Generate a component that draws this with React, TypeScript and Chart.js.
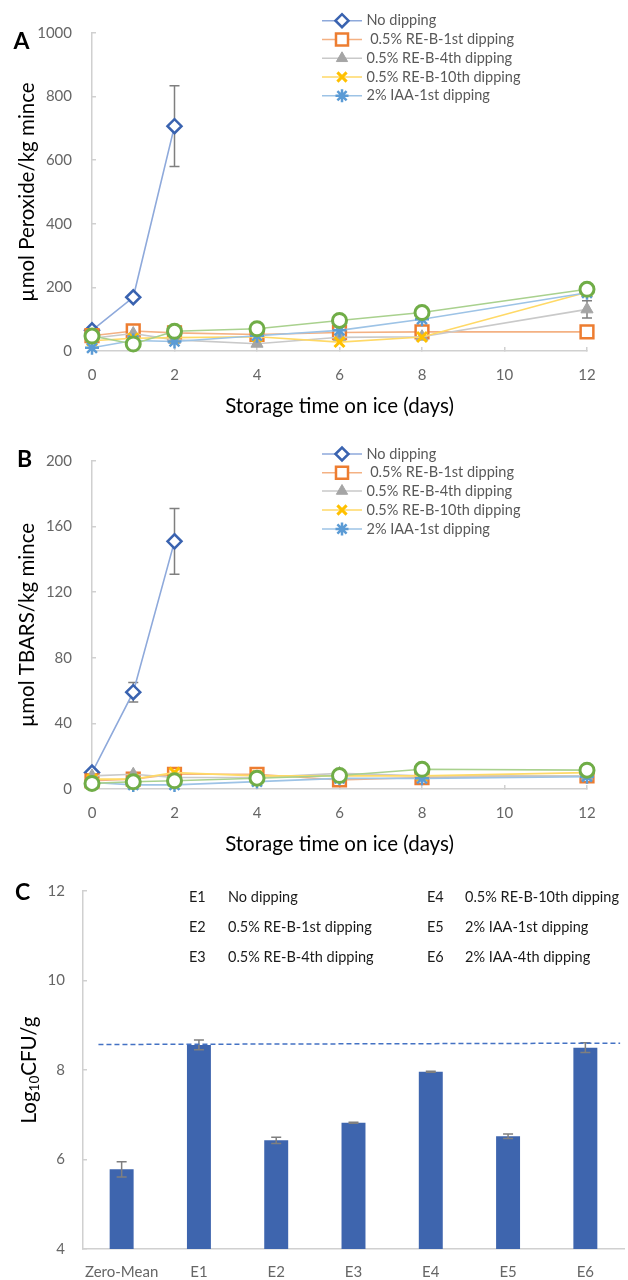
import React, { useEffect, useRef } from 'react';
import { Chart, registerables } from 'chart.js';
import { drawPoint } from 'chart.js/helpers';

Chart.register(...registerables);

const FONT = 'Lato, "Open Sans", sans-serif';
const TICK_COLOR = '#666666';
const AXIS_COLOR = '#D0D0D0';
const TITLE_SIZE = 20.5;

// ---------- data ----------
const days = [0, 1, 2, 4, 6, 8, 12];
const seriesNames = ['No dipping', ' 0.5% RE-B-1st dipping', '0.5% RE-B-4th dipping', '0.5% RE-B-10th dipping', '2% IAA-1st dipping', ''];

// Panel A: peroxide
const peroxNoDip = [65, 169, 707];
const peroxRE1 = [48, 63, 57, 52, 58, 60, 60];
const peroxRE4 = [40, 55, 35, 23, 43, 45, 131];
const peroxRE10 = [32, 40, 42, 45, 28, 44, 185];
const peroxIAA1 = [10, 33, 30, 48, 65, 100, 183];
const peroxIAA4 = [47, 22, 62, 70, 96, 121, 194];
const peroxNoDipErr = [0, 0, 127];
const peroxRE4Err = [0, 0, 0, 0, 0, 0, 27];
const peroxIAA4Err = [0, 0, 0, 0, 0, 0, 17];
const peroxYTicks = { min: 0, max: 1000, step: 200 };

// Panel B: TBARS
const tbarsNoDip = [10, 59, 151];
const tbarsRE1 = [5, 6, 9, 9, 5.5, 7, 8];
const tbarsRE4 = [8, 9, 7, 7, 9.5, 8, 8];
const tbarsRE10 = [6, 6, 10, 8, 8, 8, 10];
const tbarsIAA1 = [4, 2.5, 2.5, 4.5, 6.5, 6.5, 7.5];
const tbarsIAA4 = [3.4, 4.4, 5, 6.6, 8.2, 12, 11.5];
const tbarsNoDipErr = [0, 6, 20];
const tbarsYTicks = { min: 0, max: 200, step: 40 };

// Panel C: counts
const groups = ['Zero-Mean', 'E1', 'E2', 'E3', 'E4', 'E5', 'E6'];
const cfu = [5.78, 8.56, 6.43, 6.82, 7.96, 6.52, 8.5];
const cfuErr = [0.17, 0.11, 0.07, 0.01, 0.01, 0.05, 0.11];
const refLineX = [-0.3, 6.45];
const refLineY = [8.57, 8.6];
const cfuYTicks = { min: 4, max: 12, step: 2 };
const codesLeft = ['E1', 'E2', 'E3'];
const descLeft = ['No dipping', '0.5% RE-B-1st dipping', '0.5% RE-B-4th dipping'];
const codesRight = ['E4', 'E5', 'E6'];
const descRight = ['0.5% RE-B-10th dipping', '2% IAA-1st dipping', '2% IAA-4th dipping'];

// ---------- styles ----------
const styles = [
  { line: '#8EA9DB', marker: '#3A63B0', fill: '#FFFFFF', shape: 'rectRot', radius: 7, bw: 2.5 },
  { line: '#F4B183', marker: '#ED7D31', fill: '#FFFFFF', shape: 'rect', radius: 9, bw: 2.5 },
  { line: '#C9C9C9', marker: '#A5A5A5', fill: '#A5A5A5', shape: 'triangle', radius: 7, bw: 1 },
  { line: '#FFD966', marker: '#FFC000', fill: '#FFC000', shape: 'crossRot', radius: 7, bw: 3 },
  { line: '#9DC3E6', marker: '#5B9BD5', fill: '#5B9BD5', shape: 'star', radius: 7, bw: 2.5 },
  { line: '#A9D18E', marker: '#70AD47', fill: '#FFFFFF', shape: 'circle', radius: 7, bw: 3 },
];

function buildLineDatasets(values: number[][], errors: number[][]) {
  const n = values.length;
  return values.map((vals, i) => ({
    label: seriesNames[i],
    data: vals.map((v, j) => ({ x: days[j], y: v })),
    errors: errors[i],
    borderColor: styles[i].line,
    backgroundColor: styles[i].fill,
    pointBorderColor: styles[i].marker,
    pointBackgroundColor: styles[i].fill,
    pointStyle: styles[i].shape,
    pointRadius: styles[i].radius,
    pointBorderWidth: styles[i].bw,
    borderWidth: 1.6,
    tension: 0,
    clip: false,
    order: n - 1 - i,
  }));
}

function errorBarPlugin(phase: 'before' | 'after', cap: number) {
  const draw = (chart: any) => {
    const ctx = chart.ctx;
    ctx.save();
    ctx.strokeStyle = '#7F7F7F';
    ctx.lineWidth = 1.5;
    chart.data.datasets.forEach((ds: any, i: number) => {
      const errs = ds.errors;
      if (!errs) return;
      const meta = chart.getDatasetMeta(i);
      const ys = chart.scales[meta.yAxisID];
      meta.data.forEach((el: any, j: number) => {
        const e = errs[j];
        if (!e) return;
        const raw = ds.data[j];
        const v = typeof raw === 'number' ? raw : raw.y;
        const x = el.x;
        const y1 = ys.getPixelForValue(v + e);
        const y2 = ys.getPixelForValue(v - e);
        ctx.beginPath();
        ctx.moveTo(x, y1);
        ctx.lineTo(x, y2);
        ctx.moveTo(x - cap, y1);
        ctx.lineTo(x + cap, y1);
        ctx.moveTo(x - cap, y2);
        ctx.lineTo(x + cap, y2);
        ctx.stroke();
      });
    });
    ctx.restore();
  };
  return phase === 'before'
    ? { id: 'errbars', beforeDatasetsDraw: draw }
    : { id: 'errbars', afterDatasetsDraw: draw };
}

function lineLegendPlugin(rowsY: number[]) {
  return {
    id: 'lineLegend',
    afterDraw(chart: any) {
      const ctx = chart.ctx;
      ctx.save();
      for (let i = 0; i < 5; i++) {
        const st = styles[i];
        const y = rowsY[i];
        ctx.strokeStyle = st.line;
        ctx.lineWidth = 1.6;
        ctx.beginPath();
        ctx.moveTo(322, y);
        ctx.lineTo(362, y);
        ctx.stroke();
        ctx.strokeStyle = st.marker;
        ctx.fillStyle = st.fill;
        ctx.lineWidth = st.bw;
        drawPoint(ctx, { pointStyle: st.shape, radius: st.radius - 0.5, rotation: 0, borderWidth: st.bw } as any, 342, y);
        ctx.fillStyle = '#595959';
        ctx.font = `14.5px ${FONT}`;
        ctx.textAlign = 'left';
        ctx.textBaseline = 'middle';
        ctx.fillText(seriesNames[i], 366.5, y);
      }
      ctx.restore();
    },
  };
}

function letterPlugin(letter: string, x: number, y: number) {
  return {
    id: 'panelLetter',
    afterDraw(chart: any) {
      const ctx = chart.ctx;
      ctx.save();
      ctx.fillStyle = '#000';
      ctx.font = `bold 23px ${FONT}`;
      ctx.textAlign = 'center';
      ctx.textBaseline = 'middle';
      ctx.fillText(letter, x, y);
      ctx.restore();
    },
  };
}

const refLinePlugin = {
  id: 'refLine',
  afterDatasetsDraw(chart: any) {
    const ctx = chart.ctx;
    const xs = chart.scales.x;
    const ys = chart.scales.y;
    ctx.save();
    ctx.strokeStyle = '#4472C4';
    ctx.lineWidth = 1.5;
    ctx.setLineDash([5, 3]);
    ctx.beginPath();
    refLineX.forEach((xv, i) => {
      const px = xs.getPixelForValue(xv);
      const py = ys.getPixelForValue(refLineY[i]);
      if (i === 0) ctx.moveTo(px, py);
      else ctx.lineTo(px, py);
    });
    ctx.stroke();
    ctx.restore();
  },
};

const groupLegendPlugin = {
  id: 'groupLegend',
  afterDraw(chart: any) {
    const ctx = chart.ctx;
    const rows = [37.7, 67, 97.7];
    ctx.save();
    ctx.fillStyle = '#1A1A1A';
    ctx.font = `14.5px ${FONT}`;
    ctx.textAlign = 'left';
    ctx.textBaseline = 'middle';
    rows.forEach((y, i) => {
      ctx.fillText(codesLeft[i], 189, y);
      ctx.fillText(descLeft[i], 228, y);
      ctx.fillText(codesRight[i], 427, y);
      ctx.fillText(descRight[i], 465, y);
    });
    ctx.restore();
  },
};

const cfuTitlePlugin = {
  id: 'cfuTitle',
  afterDraw(chart: any) {
    const ctx = chart.ctx;
    const area = chart.chartArea;
    const cy = (area.top + area.bottom) / 2;
    ctx.save();
    ctx.translate(29, cy);
    ctx.rotate(-Math.PI / 2);
    ctx.fillStyle = '#000';
    ctx.textBaseline = 'middle';
    ctx.textAlign = 'left';
    const big = `${TITLE_SIZE}px ${FONT}`;
    const small = `13.5px ${FONT}`;
    ctx.font = big;
    const w1 = ctx.measureText('Log').width;
    const w3 = ctx.measureText('CFU/g').width;
    ctx.font = small;
    const w2 = ctx.measureText('10').width;
    let x = -(w1 + w2 + w3) / 2;
    ctx.font = big;
    ctx.fillText('Log', x, 0);
    x += w1;
    ctx.font = small;
    ctx.fillText('10', x, 6);
    x += w2;
    ctx.font = big;
    ctx.fillText('CFU/g', x, 0);
    ctx.restore();
  },
};

function axisBase() {
  return {
    grid: { drawOnChartArea: false, drawTicks: true, tickLength: -4, color: AXIS_COLOR, lineWidth: 1.5 },
    border: { display: true, color: AXIS_COLOR, width: 1.5 },
  };
}

const plainTick = (v: any) => String(v);

function lineOptions(yT: { min: number; max: number; step: number }, yTitle: string, padTop: number, padBottom: number) {
  return {
    animation: false,
    responsive: false,
    layout: { padding: { left: 0, top: padTop, right: 41, bottom: padBottom } },
    plugins: { legend: { display: false }, tooltip: { enabled: false } },
    scales: {
      x: {
        type: 'linear',
        min: 0,
        max: 12,
        ...axisBase(),
        ticks: { stepSize: 2, font: { family: FONT, size: 15 }, color: TICK_COLOR, padding: 19, callback: plainTick },
        title: { display: true, text: 'Storage time on ice (days)', font: { family: FONT, size: TITLE_SIZE }, color: '#000', padding: 0 },
        afterFit: (s: any) => { s.height = 68; },
      },
      y: {
        type: 'linear',
        min: yT.min,
        max: yT.max,
        ...axisBase(),
        ticks: { stepSize: yT.step, font: { family: FONT, size: 15 }, color: TICK_COLOR, padding: 24, callback: plainTick },
        title: { display: true, text: yTitle, font: { family: FONT, size: TITLE_SIZE }, color: '#000', padding: { top: 14.7, bottom: 0 } },
        afterFit: (s: any) => { s.width = 92; },
      },
    },
  };
}

function useChart(ref: React.RefObject<HTMLCanvasElement | null>, make: () => any) {
  useEffect(() => {
    if (!ref.current) return;
    const chart = new Chart(ref.current, make());
    return () => chart.destroy();
  }, []);
}

export default function App() {
  const refA = useRef<HTMLCanvasElement>(null);
  const refB = useRef<HTMLCanvasElement>(null);
  const refC = useRef<HTMLCanvasElement>(null);

  useChart(refA, () => ({
    type: 'line',
    data: {
      datasets: buildLineDatasets(
        [peroxNoDip, peroxRE1, peroxRE4, peroxRE10, peroxIAA1, peroxIAA4],
        [peroxNoDipErr, [], peroxRE4Err, [], [], peroxIAA4Err]
      ),
    },
    options: lineOptions(peroxYTicks, 'µmol Peroxide/kg mince', 22, 9),
    plugins: [errorBarPlugin('before', 5), lineLegendPlugin([20.7, 39.5, 58.3, 77, 95.8]), letterPlugin('A', 21.5, 42)],
  }));

  useChart(refB, () => ({
    type: 'line',
    data: {
      datasets: buildLineDatasets(
        [tbarsNoDip, tbarsRE1, tbarsRE4, tbarsRE10, tbarsIAA1, tbarsIAA4],
        [tbarsNoDipErr, [], [], [], [], []]
      ),
    },
    options: lineOptions(tbarsYTicks, 'µmol TBARS/kg mince', 30, 3),
    plugins: [errorBarPlugin('before', 5), lineLegendPlugin([26, 44.7, 63, 82, 101]), letterPlugin('B', 24.5, 32)],
  }));

  useChart(refC, () => ({
    type: 'bar',
    data: {
      labels: groups,
      datasets: [
        {
          data: cfu,
          errors: cfuErr,
          backgroundColor: '#3E65AE',
          borderWidth: 0,
          barPercentage: 0.31,
          categoryPercentage: 1,
        },
      ],
    },
    options: {
      animation: false,
      responsive: false,
      layout: { padding: { left: 0, top: 29, right: 4, bottom: 0 } },
      plugins: { legend: { display: false }, tooltip: { enabled: false } },
      scales: {
        x: {
          type: 'category',
          grid: { display: false, drawTicks: false },
          border: { display: true, color: AXIS_COLOR, width: 1.5 },
          ticks: { font: { family: FONT, size: 15 }, color: TICK_COLOR, padding: 14, maxRotation: 0, minRotation: 0, autoSkip: false },
          afterFit: (s: any) => { s.height = 31; },
        },
        y: {
          type: 'linear',
          min: cfuYTicks.min,
          max: cfuYTicks.max,
          ...axisBase(),
          ticks: { stepSize: cfuYTicks.step, font: { family: FONT, size: 15 }, color: TICK_COLOR, padding: 22, callback: plainTick },
          afterFit: (s: any) => { s.width = 83; },
        },
      },
    },
    plugins: [errorBarPlugin('after', 5), refLinePlugin, groupLegendPlugin, cfuTitlePlugin, letterPlugin('C', 22.5, 32.5)],
  }));

  const cv = (top: number, h: number): React.CSSProperties => ({ position: 'absolute', left: 0, top, width: 628, height: h });

  return (
    <div style={{ position: 'absolute', left: 0, top: 0, width: 628, height: 1280, background: '#fff' }}>
      <canvas ref={refA} width={628} height={428} style={cv(0, 428)} />
      <canvas ref={refB} width={628} height={432} style={cv(428, 432)} />
      <canvas ref={refC} width={628} height={420} style={cv(860, 420)} />
    </div>
  );
}
